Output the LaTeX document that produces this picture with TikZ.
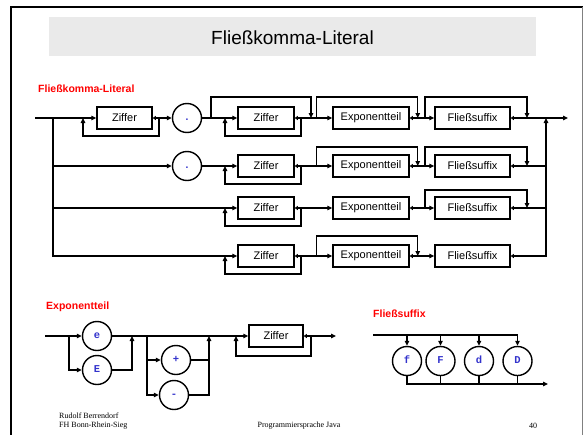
\documentclass[tikz,border=0pt]{standalone}
\usepackage{fontspec}
\setmainfont{Liberation Sans}
\newfontfamily\timesf{Liberation Serif}
\newfontfamily\monof{Liberation Mono}
\usetikzlibrary{arrows.meta}
\definecolor{redlbl}{RGB}{255,0,0}
\definecolor{bluelbl}{RGB}{51,51,204}
\definecolor{titlegrey}{RGB}{234,234,234}
\begin{document}
\begin{tikzpicture}[x=1pt,y=-1pt,
 line/.style={line width=1.2pt},
 arr/.style={line, -{Triangle[length=5pt,width=4.5pt]}},
 exitarr/.style={line, {Triangle[length=3pt,width=4pt]}-{Triangle[length=5pt,width=4.5pt]}},
 exitline/.style={line, {Triangle[length=3pt,width=4pt]}-},
 box/.style={draw, line width=1.5pt, minimum height=22pt, inner sep=0pt, font=\fontsize{11}{13}\selectfont},
 circ/.style={draw, circle, line width=1.4pt, minimum size=29pt, inner sep=0pt, text height=0.55em, text depth=0pt, font=\monof\bfseries\fontsize{10.5}{12}\selectfont, text=bluelbl},
 lbl/.style={font=\bfseries\fontsize{10.5}{12}\selectfont, text=redlbl, inner sep=0pt},
 foot/.style={font=\timesf\fontsize{8}{9}\selectfont, inner sep=0pt}
]
\useasboundingbox (0,0) rectangle (583,434);
\draw[line width=1.8pt] (11,445) -- (11,7) -- (583,7);
\draw[line width=0.8pt, gray] (582,7) -- (582,445);
\fill[titlegrey] (49,17) rectangle (536,56);
\node[font=\fontsize{19}{22}\selectfont, inner sep=0pt] (title) at (292.5,38) {Fließkomma-Literal};
\node[lbl, anchor=west] (mainlbl) at (38,89) {Fließkomma-Literal};

% ---------- main diagram ----------
\coordinate (s) at (35,118);
\coordinate (b1) at (53,118);
\coordinate (b2) at (53,166);
\coordinate (b3) at (53,208);
\coordinate (c1) at (546,118);
\coordinate (c2) at (546,166);
\coordinate (c3) at (546,208);
\coordinate (end) at (568,118);

% row 1
\node[box, minimum width=55pt] (z1) at (124.5,118) {Ziffer};
\node[circ] (d1) at (187,118) {.};
\node[box, minimum width=56pt] (z1b) at (266,118) {Ziffer};
\node[box, minimum width=76pt] (e1) at (371,118) {Exponentteil};
\node[box, minimum width=75pt] (f1) at (472.5,118) {Fließsuffix};
% row 2
\node[circ] (d2) at (187,166) {.};
\node[box, minimum width=56pt] (z2) at (266,166) {Ziffer};
\node[box, minimum width=76pt] (e2) at (371,166) {Exponentteil};
\node[box, minimum width=75pt] (f2) at (472.5,166) {Fließsuffix};
% row 3
\node[box, minimum width=56pt] (z3) at (266,208) {Ziffer};
\node[box, minimum width=76pt] (e3) at (371,208) {Exponentteil};
\node[box, minimum width=75pt] (f3) at (472.5,208) {Fließsuffix};
% row 4
\node[box, minimum width=56pt] (z4) at (266,256) {Ziffer};
\node[box, minimum width=76pt] (e4) at (371,256) {Exponentteil};
\node[box, minimum width=75pt] (f4) at (472.5,256) {Fließsuffix};

% entry and branches
\draw[arr] (s) -- (z1.west);
\draw[arr] (b1) |- (z4.west);
\draw[arr] (b2) -- (d2.west);
\draw[arr] (b3) -- (z3.west);

% row 1 connectors
\draw[arr] (159,118) -- ++(0,18) -| (83,118);
\draw[exitarr] (z1.east) -- (d1.west);
\draw[arr] (d1.east) -- (z1b.west);
\draw[arr] (211,118) -- ++(0,-21) -| (311,118);
\draw[arr] (301,118) -- ++(0,18) -| (225,118);
\draw[exitarr] (z1b.east) -- (e1.west);
\draw[arr] (316.7,118) -- ++(0,-21) -| (417.7,118);
\draw[exitarr] (e1.east) -- (f1.west);
\draw[arr] (425,118) -- ++(0,-21) -| (527,118);
\draw[exitarr] (f1.east) -- (end);

% row 2 connectors
\draw[arr] (d2.east) -- (z2.west);
\draw[arr] (301,166) -- ++(0,18) -| (225,166);
\draw[exitarr] (z2.east) -- (e2.west);
\draw[arr] (316.7,166) -- ++(0,-19) -| (417.7,166);
\draw[exitarr] (e2.east) -- (f2.west);
\draw[arr] (425,166) -- ++(0,-19) -| (527,166);
\draw[exitline] (f2.east) -- (c2);

% row 3 connectors
\draw[arr] (301,208) -- ++(0,18) -| (225,208);
\draw[exitarr] (z3.east) -- (e3.west);
\draw[exitarr] (e3.east) -- (f3.west);
\draw[arr] (425,208) -- ++(0,-18) -| (527,208);
\draw[exitline] (f3.east) -- (c3);

% row 4 connectors
\draw[arr] (301,256) -- ++(0,18) -| (225,256);
\draw[exitarr] (z4.east) -- (e4.west);
\draw[arr] (316.7,256) -- ++(0,-20) -| (417.7,256);
\draw[exitarr] (e4.east) -- (f4.west);
\draw[exitarr] (f4.east) -| (c1);

% ---------- Exponentteil ----------
\node[lbl, anchor=west] (explbl) at (46,307) {Exponentteil};
\coordinate (xs) at (45,336);
\coordinate (xb) at (69,336);
\coordinate (xj1) at (132,336);
\coordinate (xb2) at (147,336);
\coordinate (xj2) at (209,336);
\coordinate (xend) at (336,336);
\node[circ] (ce) at (97,336) {e};
\node[circ] (cE) at (97,370) {E};
\node[circ] (cp) at (176,360) {+};
\node[circ] (cm) at (174,395) {-};
\node[box, minimum width=54pt] (zx) at (276,336) {Ziffer};
\draw[arr] (xs) -- (ce.west);
\draw[arr] (xb) |- (cE.west);
\draw[arr] (cE.east) -| (xj1);
\draw[arr] (ce.east) -- (zx.west);
\draw[arr] (xb2) |- (cp.west);
\draw[arr] (xb2) |- (cm.west);
\draw[line] (cp.east) -- (cp.east -| xj2);
\draw[arr] (cm.east) -| (xj2);
\draw[arr] (311,336) -- ++(0,20) -| (236,336);
\draw[exitarr] (zx.east) -- (xend);

% ---------- Fliesssuffix ----------
\node[lbl, anchor=west] (suflbl) at (373,314) {Fließsuffix};
\coordinate (fs) at (373,335);
\coordinate (fe) at (548,384);
\node[circ] (cf) at (407,361) {f};
\node[circ] (cF) at (440.5,361) {F};
\node[circ] (cd) at (479,361) {d};
\node[circ] (cD) at (517.5,361) {D};
\draw[arr] (fs) -| (cD.north);
\draw[arr] (cf.north |- fs) -- (cf.north);
\draw[arr] (cF.north |- fs) -- (cF.north);
\draw[arr] (cd.north |- fs) -- (cd.north);
\draw[arr] (cf.south) |- (fe);
\draw[line] (cF.south) -- (cF.south |- fe);
\draw[line] (cd.south) -- (cd.south |- fe);
\draw[line] (cD.south) -- (cD.south |- fe);

% ---------- footer ----------
\node[foot, anchor=west] (au) at (59,416) {Rudolf Berrendorf};
\node[foot, anchor=west] (fh) at (59,426) {FH Bonn-Rhein-Sieg};
\node[foot] (pj) at (299,426) {Programmiersprache Java};
\node[foot] (pg) at (533,426) {40};
\end{tikzpicture}
\end{document}
